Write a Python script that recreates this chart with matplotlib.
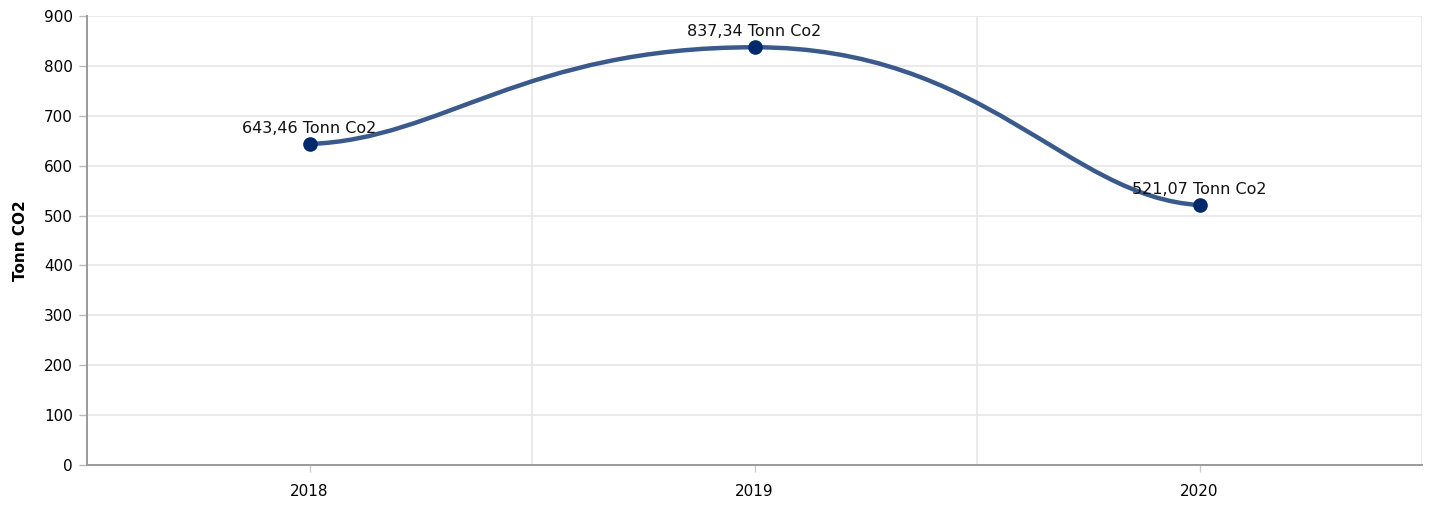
import numpy as np
from matplotlib import pyplot as plt
from matplotlib.path import Path
from matplotlib.patches import PathPatch

plt.rcParams["font.family"] = ["DejaVu Sans"]

# CO2 emissions per year
YEARS = ["2018", "2019", "2020"]
EMISSIONS = [643.46, 837.34, 521.07]
UNIT = "Tonn Co2"

LINE_COLOUR = "#3a5a8c"
MARKER_COLOUR = "#002a6c"
GRID_COLOUR = "#e6e6e6"
AXIS_COLOUR = "#9a9a9a"


def spline_path(xs, ys, end_handle=0.3, mid_handle=0.52):
    # cubic bezier through the points, flat at peaks/valleys, gentle at the ends
    xs = np.asarray(xs, float)
    ys = np.asarray(ys, float)
    n = len(xs)
    chord = np.diff(ys) / np.diff(xs)
    m = np.zeros(n)
    m[0] = chord[0] / 6
    m[-1] = chord[-1] / 6
    for i in range(1, n - 1):
        if chord[i - 1] * chord[i] > 0:
            m[i] = 2 / (1 / chord[i - 1] + 1 / chord[i])
    verts = [(xs[0], ys[0])]
    codes = [Path.MOVETO]
    for i in range(n - 1):
        h = xs[i + 1] - xs[i]
        a = end_handle if i == 0 else mid_handle
        b = end_handle if i + 1 == n - 1 else mid_handle
        c1 = (xs[i] + a * h, ys[i] + a * h * m[i])
        c2 = (xs[i + 1] - b * h, ys[i + 1] - b * h * m[i + 1])
        verts += [c1, c2, (xs[i + 1], ys[i + 1])]
        codes += [Path.CURVE4] * 3
    return Path(verts, codes)


fig = plt.figure(figsize=(14.29, 5.05), dpi=100)
ax = fig.add_axes([87 / 1429, 1 - 465 / 505, (1422 - 87) / 1429, (465 - 16) / 505])

x = np.arange(len(YEARS))
curve = PathPatch(spline_path(x, EMISSIONS), facecolor="none",
                  edgecolor=LINE_COLOUR, lw=3.2, capstyle="round", zorder=3)
ax.add_patch(curve)
ax.plot(x, EMISSIONS, "o", color=MARKER_COLOUR, ms=9.5, zorder=4)

for xi, v in zip(x, EMISSIONS):
    ax.annotate("{} {}".format(("%.2f" % v).replace(".", ","), UNIT),
                (xi, v), xytext=(0, 6), textcoords="offset points",
                ha="center", va="bottom", fontsize=11.5, color="#111111", zorder=5)

ax.set_xlim(-0.5, len(YEARS) - 0.5)
ax.set_ylim(0, 900)
ax.set_yticks(np.arange(0, 901, 100))
ax.set_xticks(x)
ax.set_xticklabels(YEARS)
ax.set_xticks(np.arange(-0.5, len(YEARS), 1), minor=True)

ax.grid(axis="y", color=GRID_COLOUR, lw=1.2, zorder=0)
ax.grid(axis="x", which="minor", color=GRID_COLOUR, lw=1.2, zorder=0)
ax.grid(axis="x", which="major", visible=False)
ax.set_axisbelow(True)

for side in ["top", "right"]:
    ax.spines[side].set_visible(False)
for side in ["left", "bottom"]:
    ax.spines[side].set_color(AXIS_COLOUR)
    ax.spines[side].set_linewidth(1.4)

ax.tick_params(axis="y", length=6, width=1, color="#bbbbbb", labelsize=11, pad=4)
ax.tick_params(axis="x", which="major", length=5, width=1, color="#cccccc",
               labelsize=11, pad=9)
ax.tick_params(axis="x", which="minor", length=0)

ax.set_ylabel("Tonn CO2", fontsize=11, fontweight="bold")
ax.yaxis.set_label_coords(-0.0445, 0.5)

fig.savefig("out.png", dpi=100, facecolor="white")
